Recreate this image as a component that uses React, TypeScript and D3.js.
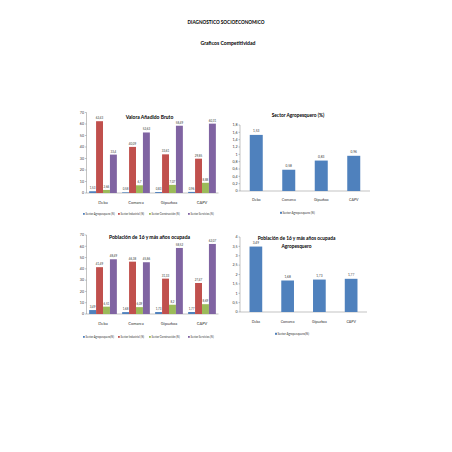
import React from "react";
import * as d3 from "d3";

const categories = ["Deba", "Comarca", "Gipuzkoa", "CAPV"];
const sectorNames = [
  "Sector Agropesquero (%)",
  "Sector Industrial (%)",
  "Sector Construcción (%)",
  "Sector Servicios (%)",
];
const sectorNamesPob = [
  "Sector Agropesquero(%)",
  "Sector Industrial (%)",
  "Sector Construcción (%)",
  "Sector Servicios (%)",
];
// Valor Añadido Bruto (%), per category: [agro, industrial, construcción, servicios]
const vabAgro = [1.53, 0.58, 0.83, 0.96];
const vabIndustrial = [62.43, 40.09, 33.61, 29.85];
const vabConstruccion = [2.66, 6.7, 7.07, 8.88];
const vabServicios = [33.4, 52.63, 58.49, 60.31];
// Población de 16 y más años ocupada (%)
const pobAgro = [3.49, 1.68, 1.73, 1.77];
const pobIndustrial = [41.49, 46.38, 31.33, 27.47];
const pobConstruccion = [6.51, 6.09, 8.2, 8.69];
const pobServicios = [48.49, 45.86, 58.52, 62.07];

const ticks70 = [0, 10, 20, 30, 40, 50, 60, 70];
const ticks18 = [0, 0.2, 0.4, 0.6, 0.8, 1, 1.2, 1.4, 1.6, 1.8];
const ticks4 = [0, 0.5, 1, 1.5, 2, 2.5, 3, 3.5, 4];

const colors = ["#4F81BD", "#C0504D", "#9BBB59", "#8064A2"];
const FONT = "Lato, 'Open Sans', sans-serif";
const AXIS = "#868686";
const fmt = (v: number) => String(v).replace(".", ",");

type GroupedProps = {
  title: string;
  series: number[][];
  names: string[];
  x0: number;
  x1: number;
  yBottom: number;
  yTop: number;
  yMax: number;
  ticks: number[];
  titleY: number;
  catY: number;
  legendY: number;
  legendX: number[];
};

function Grouped(p: GroupedProps) {
  const x = d3.scaleBand<string>().domain(categories).range([p.x0, p.x1]).paddingInner(0.16).paddingOuter(0.08);
  const xi = d3.scaleBand<number>().domain(d3.range(p.series.length)).range([0, x.bandwidth()]);
  const y = d3.scaleLinear().domain([0, p.yMax]).range([p.yBottom, p.yTop]);
  return (
    <g fontFamily={FONT}>
      <line x1={p.x0} x2={p.x0} y1={y(0)} y2={y(p.yMax)} stroke={AXIS} strokeWidth={0.5} />
      <line x1={p.x0} x2={p.x1} y1={y(0)} y2={y(0)} stroke={AXIS} strokeWidth={0.5} />
      {p.ticks.map((t) => (
        <g key={t}>
          <line x1={p.x0 - 1.5} x2={p.x0} y1={y(t)} y2={y(t)} stroke={AXIS} strokeWidth={0.5} />
          <text x={p.x0 - 2.5} y={y(t)} dy="0.35em" fontSize={3.6} textAnchor="end" fill="#333">
            {fmt(t)}
          </text>
        </g>
      ))}
      {categories.map((c, ci) => (
        <g key={c}>
          {p.series.map((s, si) => {
            const v = s[ci];
            const bx = (x(c) as number) + (xi(si) as number);
            return (
              <g key={si}>
                <rect x={bx} y={y(v)} width={xi.bandwidth()} height={y(0) - y(v)} fill={colors[si]} />
                <text x={bx + xi.bandwidth() / 2} y={y(v) - 2} fontSize={2.9} textAnchor="middle" fill="#333">
                  {fmt(v)}
                </text>
              </g>
            );
          })}
          <text x={(x(c) as number) + x.bandwidth() / 2} y={p.catY} fontSize={4} textAnchor="middle" fill="#333">
            {c}
          </text>
        </g>
      ))}
      <text x={(p.x0 + p.x1) / 2 - 3} y={p.titleY} fontSize={5} fontWeight="bold" textAnchor="middle" fill="#000">
        {p.title}
      </text>
      {p.names.map((n, i) => (
        <g key={n}>
          <rect x={p.legendX[i]} y={p.legendY - 2} width={1.8} height={1.8} fill={colors[i]} />
          <text x={p.legendX[i] + 2.6} y={p.legendY} fontSize={2.7} fill="#333">
            {n}
          </text>
        </g>
      ))}
    </g>
  );
}

type SingleProps = {
  title: string[];
  values: number[];
  name: string;
  x0: number;
  x1: number;
  yBottom: number;
  yTop: number;
  yMax: number;
  ticks: number[];
  titleY: number;
  catY: number;
  legendY: number;
  legendX: number;
};

function Single(p: SingleProps) {
  const x = d3.scaleBand<string>().domain(categories).range([p.x0, p.x1]).paddingInner(0.6).paddingOuter(0.3);
  const y = d3.scaleLinear().domain([0, p.yMax]).range([p.yBottom, p.yTop]);
  return (
    <g fontFamily={FONT}>
      <line x1={p.x0} x2={p.x0} y1={y(0)} y2={y(p.yMax)} stroke={AXIS} strokeWidth={0.5} />
      <line x1={p.x0} x2={p.x1} y1={y(0)} y2={y(0)} stroke={AXIS} strokeWidth={0.5} />
      {p.ticks.map((t) => (
        <g key={t}>
          <line x1={p.x0 - 1.5} x2={p.x0} y1={y(t)} y2={y(t)} stroke={AXIS} strokeWidth={0.5} />
          <text x={p.x0 - 2.5} y={y(t)} dy="0.35em" fontSize={3.6} textAnchor="end" fill="#333">
            {fmt(t)}
          </text>
        </g>
      ))}
      {categories.map((c, ci) => {
        const v = p.values[ci];
        const bx = x(c) as number;
        return (
          <g key={c}>
            <rect x={bx} y={y(v)} width={x.bandwidth()} height={y(0) - y(v)} fill={colors[0]} />
            <text x={bx + x.bandwidth() / 2} y={y(v) - 2.5} fontSize={3.2} textAnchor="middle" fill="#333">
              {fmt(v)}
            </text>
            <text x={bx + x.bandwidth() / 2} y={p.catY} fontSize={3.6} textAnchor="middle" fill="#333">
              {c}
            </text>
          </g>
        );
      })}
      {p.title.map((t, i) => (
        <text key={t} x={(p.x0 + p.x1) / 2 - 7} y={p.titleY + i * 8} fontSize={4.8} fontWeight="bold" textAnchor="middle" fill="#000">
          {t}
        </text>
      ))}
      <rect x={p.legendX} y={p.legendY - 2.2} width={2} height={2} fill={colors[0]} />
      <text x={p.legendX + 2.4} y={p.legendY} fontSize={3} fill="#333">
        {p.name}
      </text>
    </g>
  );
}

export default function App() {
  return (
    <svg width={452} height={452} style={{ position: "absolute", left: 0, top: 0, background: "#fff" }}>
      <rect width={452} height={452} fill="#fff" />
      <text x={226} y={24} fontFamily={FONT} fontSize={6} fontWeight="bold" textAnchor="middle" textLength={77} lengthAdjust="spacingAndGlyphs">
        DIAGNOSTICO SOCIOECONOMICO
      </text>
      <text x={228} y={45} fontFamily={FONT} fontSize={6} fontWeight="bold" textAnchor="middle" textLength={55} lengthAdjust="spacingAndGlyphs">
        Graficos Competitividad
      </text>
      <Grouped
        title="Valora Añadido Bruto"
        series={[vabAgro, vabIndustrial, vabConstruccion, vabServicios]}
        names={sectorNames}
        x0={86.5}
        x1={218.5}
        yBottom={193}
        yTop={112.5}
        yMax={70}
        ticks={ticks70}
        titleY={118.5}
        catY={204}
        legendY={215}
        legendX={[83, 118, 149, 188]}
      />
      <Single
        title={["Sector Agropesquero (%)"]}
        values={vabAgro}
        name="Sector Agropesquero (%)"
        x0={240}
        x1={370}
        yBottom={191}
        yTop={125}
        yMax={1.8}
        ticks={ticks18}
        titleY={116.5}
        catY={201}
        legendY={214}
        legendX={280}
      />
      <Grouped
        title="Población de 16 y más años ocupada"
        series={[pobAgro, pobIndustrial, pobConstruccion, pobServicios]}
        names={sectorNamesPob}
        x0={86.5}
        x1={218.5}
        yBottom={314}
        yTop={235}
        yMax={70}
        ticks={ticks70}
        titleY={238.5}
        catY={325}
        legendY={338}
        legendX={[83, 118, 149, 188]}
      />
      <Single
        title={["Población de 16 y más años ocupada", "Agropesquero"]}
        values={pobAgro}
        name="Sector Agropesquero(%)"
        x0={240}
        x1={367}
        yBottom={312}
        yTop={237}
        yMax={4}
        ticks={ticks4}
        titleY={239.5}
        catY={323}
        legendY={335}
        legendX={275}
      />
    </svg>
  );
}
